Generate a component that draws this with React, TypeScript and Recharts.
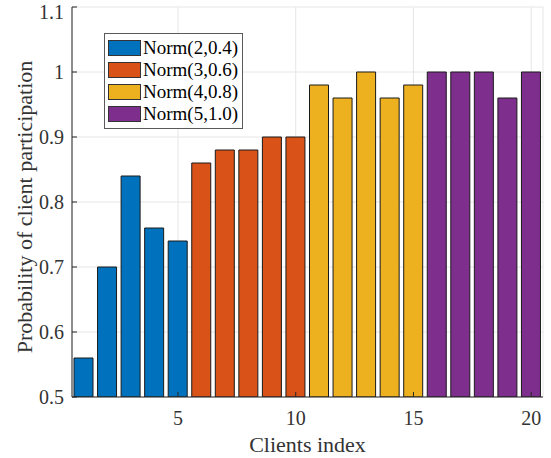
import { BarChart, Bar, XAxis, YAxis, CartesianGrid, Legend, Cell, Label } from 'recharts';

// participation probability per client, grouped by the noise distribution
const clients = [1, 2, 3, 4, 5, 6, 7, 8, 9, 10, 11, 12, 13, 14, 15, 16, 17, 18, 19, 20];
const probability = [0.56, 0.70, 0.84, 0.76, 0.74, 0.86, 0.88, 0.88, 0.90, 0.90, 0.98, 0.96, 1.00, 0.96, 0.98, 1.00, 1.00, 1.00, 0.96, 1.00];
const clientGroup = [0, 0, 0, 0, 0, 1, 1, 1, 1, 1, 2, 2, 2, 2, 2, 3, 3, 3, 3, 3];
const groupNames = ['Norm(2,0.4)', 'Norm(3,0.6)', 'Norm(4,0.8)', 'Norm(5,1.0)'];
const groupColors = ['#0072BD', '#D95319', '#EDB120', '#7E2F8E'];
const xTicks = [5, 10, 15, 20];
const yTicks = [0.5, 0.6, 0.7, 0.8, 0.9, 1.0, 1.1];

const data = clients.map((c, i) => ({ client: c, p: probability[i], group: clientGroup[i] }));

const FONT = '"Liberation Serif", "Times New Roman", serif';
const AXIS = '#262626';

const LegendBox = () => (
  <div
    style={{
      display: 'inline-block',
      background: '#fff',
      border: '1px solid #5a5a5a',
      padding: '3px 4px 3px 3px',
      fontFamily: FONT,
      fontSize: 19,
      color: '#000',
      lineHeight: '22px',
    }}
  >
    {groupNames.map((name, i) => (
      <div key={name} style={{ display: 'flex', alignItems: 'center' }}>
        <span
          style={{
            display: 'inline-block',
            width: 31,
            height: 14,
            background: groupColors[i],
            border: '1px solid #333',
            marginRight: 2,
          }}
        />
        <span>{name}</span>
      </div>
    ))}
  </div>
);

// rotated y label, a little below the axis centre like the original
const YLabel = (props: any) => {
  const vb = props.viewBox || { x: 0, y: 0, width: 0, height: 0 };
  const x = vb.x + 24;
  const y = vb.y + vb.height / 2 + 5;
  return (
    <text
      x={x}
      y={y}
      transform={`rotate(-90, ${x}, ${y})`}
      textAnchor="middle"
      dominantBaseline="central"
      style={{ fill: '#333', fontSize: 22, fontFamily: FONT }}
    >
      Probability of client participation
    </text>
  );
};

export default function App() {
  return (
    <div style={{ position: 'absolute', left: 0, top: 0, background: '#fff' }}>
      <BarChart
        width={551}
        height={458}
        data={data}
        margin={{ top: 7, right: 8, left: 0, bottom: 0 }}
        style={{ fontFamily: FONT }}
      >
        <CartesianGrid stroke="#e6e6e6" strokeWidth={1} />
        <XAxis
          dataKey="client"
          type="number"
          domain={[0.5, 20.5]}
          ticks={xTicks}
          allowDataOverflow
          height={61}
          tickSize={-5}
          tickMargin={19}
          stroke={AXIS}
          tick={{ fill: '#333', fontSize: 20, fontFamily: FONT }}
        >
          <Label
            value="Clients index"
            position="insideBottom"
            offset={6}
            style={{ fill: '#333', fontSize: 22, fontFamily: FONT }}
          />
        </XAxis>
        <XAxis
          xAxisId="top"
          orientation="top"
          type="number"
          domain={[0.5, 20.5]}
          ticks={xTicks}
          allowDataOverflow
          height={0}
          tickSize={-5}
          stroke={AXIS}
          tickFormatter={() => ''}
        />
        <YAxis
          type="number"
          domain={[0.5, 1.1]}
          ticks={yTicks}
          allowDataOverflow
          width={72}
          tickSize={-5}
          tickMargin={13}
          stroke={AXIS}
          tick={{ fill: '#333', fontSize: 20, fontFamily: FONT }}
          tickFormatter={(v: number) => String(Number(v.toFixed(1)))}
        >
          <Label content={<YLabel />} />
        </YAxis>
        <YAxis
          yAxisId="right"
          orientation="right"
          type="number"
          domain={[0.5, 1.1]}
          ticks={yTicks}
          allowDataOverflow
          width={0}
          tickSize={-5}
          stroke={AXIS}
          tickFormatter={() => ''}
        />
        <Legend
          content={<LegendBox />}
          wrapperStyle={{ position: 'absolute', left: 104, top: 33, width: 'auto', height: 0, overflow: 'visible' }}
        />
        <Bar dataKey="p" barSize={19} stroke="#1a1a1a" strokeWidth={1} isAnimationActive={false}>
          {data.map((d) => (
            <Cell key={d.client} fill={groupColors[d.group]} />
          ))}
        </Bar>
      </BarChart>
    </div>
  );
}
